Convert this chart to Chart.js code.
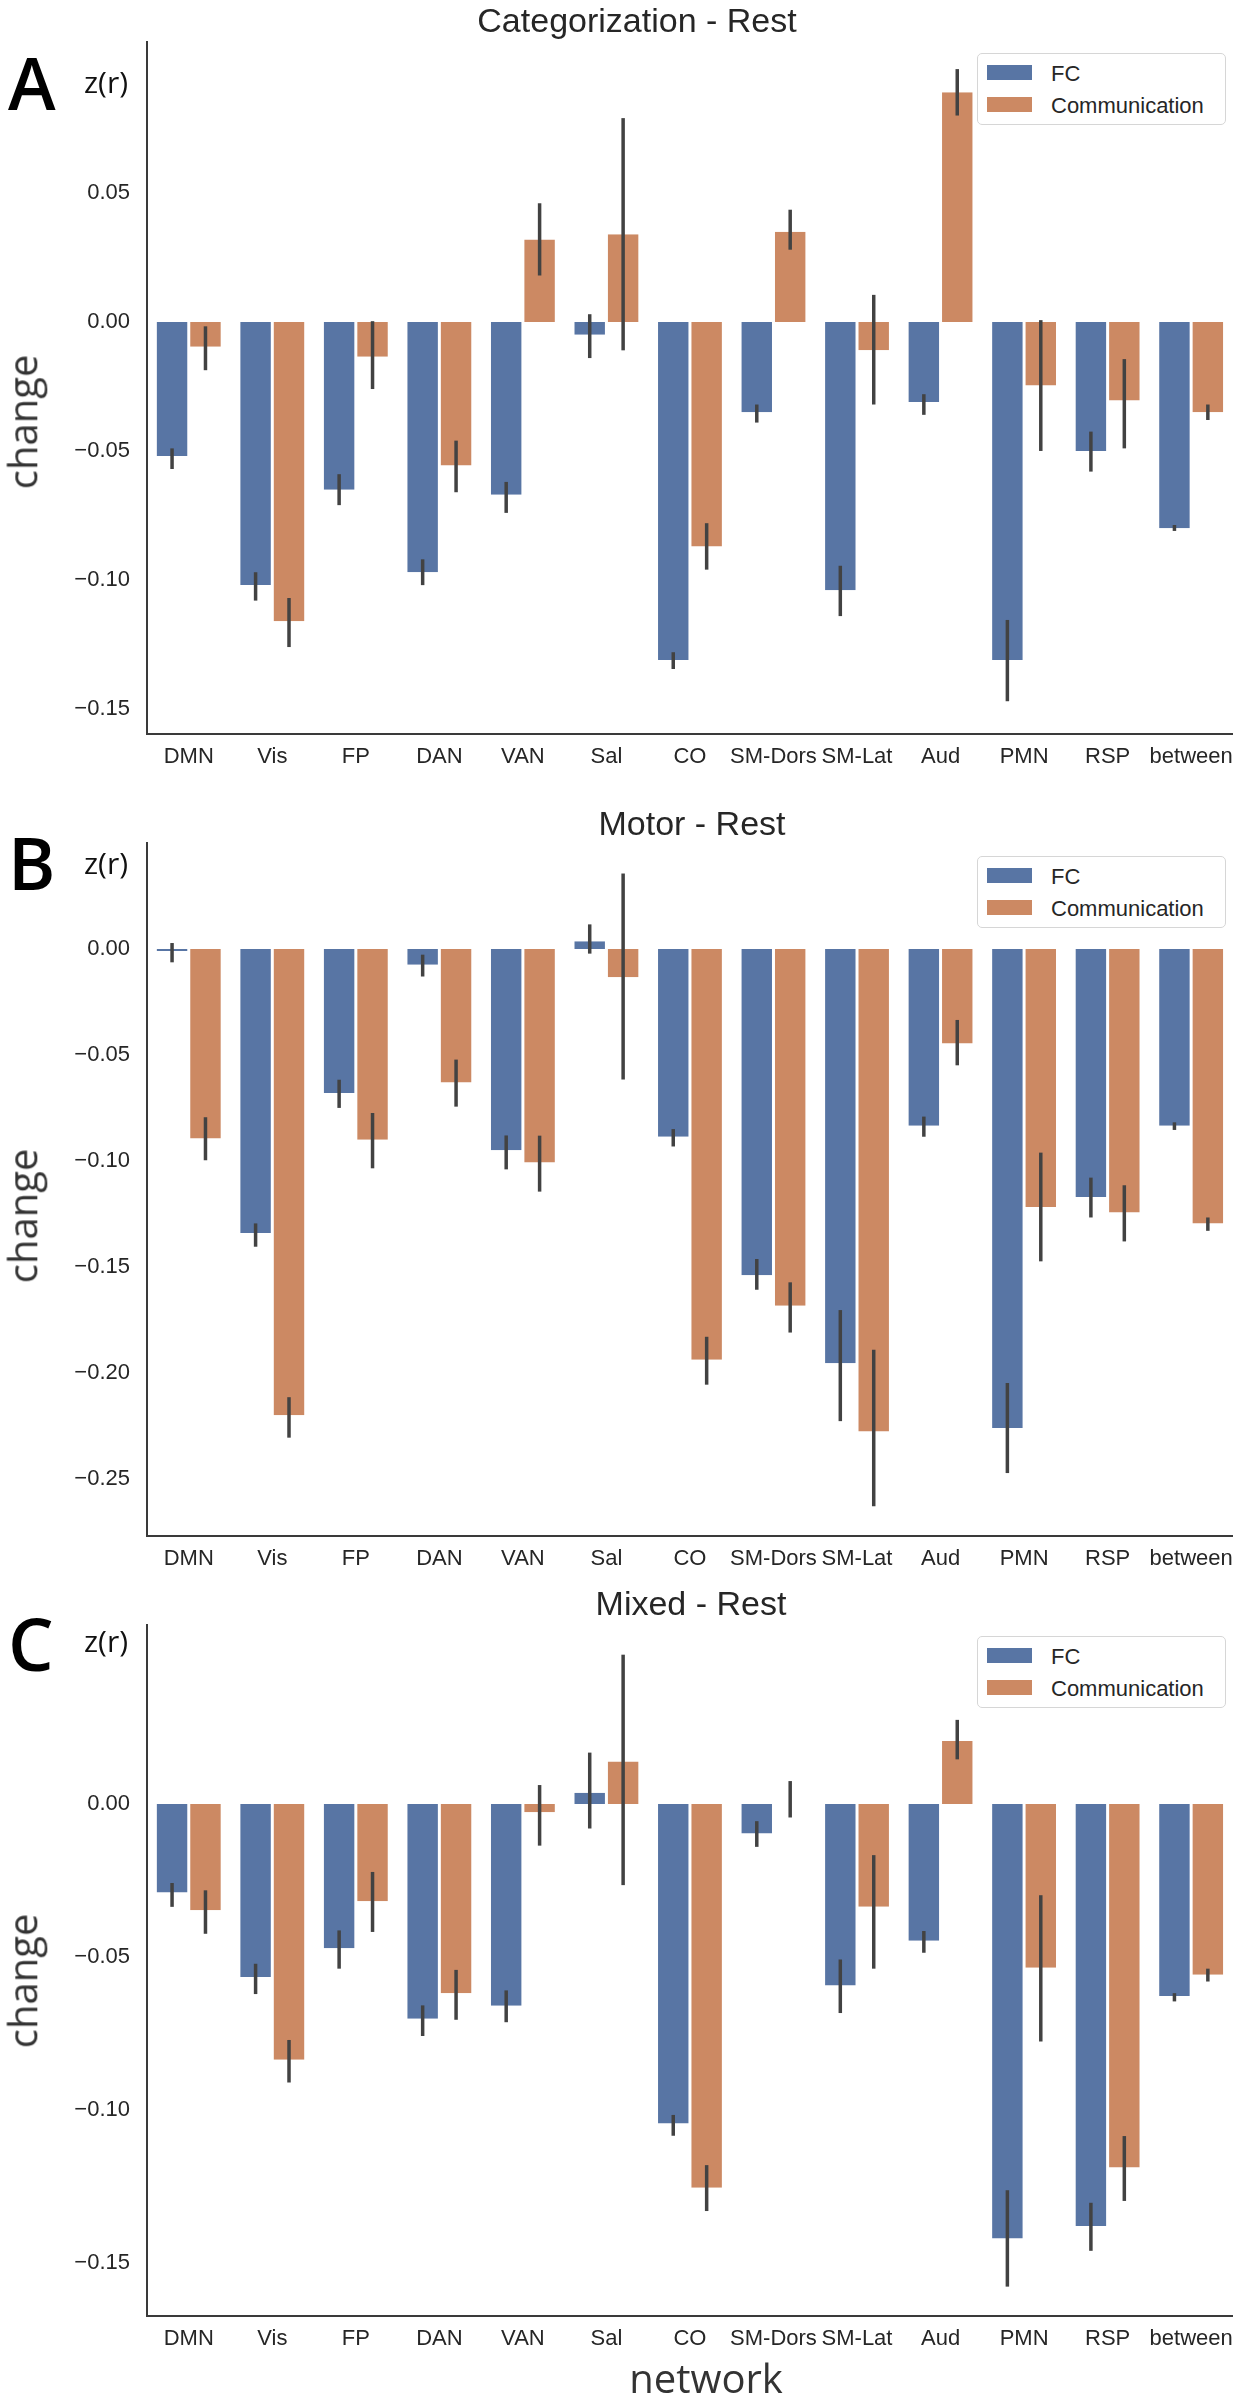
<!DOCTYPE html>
<html><head><meta charset="utf-8">
<script src="https://cdn.jsdelivr.net/npm/chart.js@4.4.1/dist/chart.umd.min.js"></script>
<style>
html,body{margin:0;padding:0;background:#fff;}
#wrap{position:relative;width:1243px;height:2400px;overflow:hidden;background:#fff;}
canvas{position:absolute;left:0;}
.t{position:absolute;white-space:nowrap;line-height:1;z-index:3;}
.title{font-family:'Liberation Sans',Arial,sans-serif;font-size:34px;color:#262626;}
.letter{font-family:'Open Sans',sans-serif;font-size:72px;font-weight:600;color:#000;}
.zr{font-family:'Open Sans',sans-serif;font-size:30px;color:#111;}
.lab{font-family:'Open Sans',sans-serif;font-size:40px;color:#333;}
.legend{position:absolute;border:1.5px solid #d6d6d6;border-radius:5px;background:#fff;box-sizing:border-box;z-index:2;}
.patch{position:absolute;width:45px;height:15px;z-index:3;}
.ltxt{font-family:'Liberation Sans',Arial,sans-serif;font-size:22px;color:#262626;}
</style></head><body><div id="wrap"></div>
<script>
// ---------------- DATA ----------------
const categories = ['DMN','Vis','FP','DAN','VAN','Sal','CO','SM-Dors','SM-Lat','Aud','PMN','RSP','between'];
const seriesNames = ['FC','Communication'];

// Panel A: Categorization - Rest
const fcA     = [-0.052,-0.102,-0.065,-0.097,-0.067,-0.005,-0.131,-0.035,-0.104,-0.031,-0.131,-0.050,-0.080];
const fcA_lo  = [-0.057,-0.108,-0.071,-0.102,-0.074,-0.014,-0.1345,-0.039,-0.114,-0.036,-0.147,-0.058,-0.081];
const fcA_hi  = [-0.049,-0.097,-0.059,-0.092,-0.062,0.003,-0.128,-0.032,-0.0945,-0.028,-0.1155,-0.0425,-0.0787];
const commA    = [-0.0096,-0.116,-0.0135,-0.0556,0.032,0.034,-0.087,0.035,-0.011,0.089,-0.0246,-0.0304,-0.035];
const commA_lo = [-0.0187,-0.126,-0.026,-0.066,0.018,-0.011,-0.096,0.028,-0.032,0.080,-0.050,-0.049,-0.038];
const commA_hi = [-0.0017,-0.107,0.0003,-0.046,0.046,0.079,-0.078,0.0435,0.0105,0.098,0.0007,-0.0144,-0.032];
const yTicksA      = [-0.15,-0.10,-0.05,0.00,0.05];
const yTickLabelsA = ['\u22120.15','\u22120.10','\u22120.05','0.00','0.05'];

// Panel B: Motor - Rest
const fcB     = [-0.001,-0.134,-0.068,-0.0074,-0.095,0.0036,-0.0886,-0.154,-0.1955,-0.0834,-0.226,-0.117,-0.0834];
const fcB_lo  = [-0.0063,-0.1405,-0.075,-0.013,-0.104,-0.0022,-0.0932,-0.1608,-0.2228,-0.0886,-0.2473,-0.1267,-0.0854];
const fcB_hi  = [0.0028,-0.1295,-0.0617,-0.0027,-0.088,0.0116,-0.085,-0.1463,-0.1704,-0.0791,-0.2048,-0.1079,-0.0818];
const commB    = [-0.0894,-0.220,-0.090,-0.063,-0.1008,-0.0134,-0.1938,-0.1683,-0.2277,-0.0446,-0.1217,-0.1244,-0.1295];
const commB_lo = [-0.0997,-0.2306,-0.1035,-0.0744,-0.1145,-0.0616,-0.2056,-0.181,-0.263,-0.0549,-0.1474,-0.138,-0.133];
const commB_hi = [-0.0794,-0.2115,-0.0774,-0.0522,-0.0881,0.0356,-0.183,-0.1573,-0.1891,-0.0335,-0.0961,-0.1115,-0.1267];
const yTicksB      = [-0.25,-0.20,-0.15,-0.10,-0.05,0.00];
const yTickLabelsB = ['\u22120.25','\u22120.20','\u22120.15','\u22120.10','\u22120.05','0.00'];

// Panel C: Mixed - Rest
const fcC     = [-0.0289,-0.0565,-0.0471,-0.0702,-0.0659,0.0037,-0.1044,-0.0096,-0.0593,-0.0447,-0.142,-0.1379,-0.0627];
const fcC_lo  = [-0.0336,-0.0621,-0.0538,-0.0758,-0.0713,-0.008,-0.1084,-0.014,-0.0683,-0.0486,-0.1577,-0.146,-0.0645];
const fcC_hi  = [-0.0258,-0.0522,-0.0413,-0.0658,-0.0609,0.0168,-0.1016,-0.0056,-0.0508,-0.0415,-0.1262,-0.1303,-0.0618];
const commC    = [-0.0347,-0.0836,-0.0318,-0.0618,-0.0027,0.0139,-0.1254,0.0,-0.0336,0.0206,-0.0535,-0.1188,-0.0558];
const commC_lo = [-0.0424,-0.091,-0.0418,-0.0705,-0.0136,-0.0265,-0.133,-0.0044,-0.0538,0.0146,-0.0776,-0.1297,-0.058];
const commC_hi = [-0.0282,-0.0771,-0.0222,-0.0542,0.0062,0.0488,-0.118,0.0075,-0.0167,0.0275,-0.0298,-0.1085,-0.0538];
const yTicksC      = [-0.15,-0.10,-0.05,0.00];
const yTickLabelsC = ['\u22120.15','\u22120.10','\u22120.05','0.00'];

const titles = ['Categorization - Rest','Motor - Rest','Mixed - Rest'];
const panelLetters = ['A','B','C'];
const yLimits = [[-0.1597,0.1085],[-0.277,0.050],[-0.1673,0.0585]];

// ---------------- STYLE / LAYOUT ----------------
const FC_COLOR = '#5875a4', COMM_COLOR = '#cc8963', AXIS_COLOR = '#3a3a3a', ERR_COLOR = '#424242', TEXT_COLOR = '#262626';
const TICK_FONT = {family:"'Liberation Sans', Arial, sans-serif", size:22};
const layouts = [
  {canvasTop:0,    canvasH:790, padTop:42, xAxisH:56, titleCx:637, titleBase:32,   letterBase:110,  zrBase:93,   changeCy:421.5, legendTop:53},
  {canvasTop:790,  canvasH:790, padTop:53, xAxisH:44, titleCx:692, titleBase:835,  letterBase:890,  zrBase:874,  changeCy:1216,  legendTop:856},
  {canvasTop:1580, canvasH:780, padTop:45, xAxisH:44, titleCx:691, titleBase:1615, letterBase:1671, zrBase:1652, changeCy:1980.5,legendTop:1636}
];
const panelData = [
  {fc:fcA, fcLo:fcA_lo, fcHi:fcA_hi, comm:commA, commLo:commA_lo, commHi:commA_hi, ticks:yTicksA, tickLabels:yTickLabelsA},
  {fc:fcB, fcLo:fcB_lo, fcHi:fcB_hi, comm:commB, commLo:commB_lo, commHi:commB_hi, ticks:yTicksB, tickLabels:yTickLabelsB},
  {fc:fcC, fcLo:fcC_lo, fcHi:fcC_hi, comm:commC, commLo:commC_lo, commHi:commC_hi, ticks:yTicksC, tickLabels:yTickLabelsC}
];

const errorBars = {
  id:'errorBars',
  afterDatasetsDraw(chart){
    const ctx = chart.ctx, ys = chart.scales.y;
    ctx.save();
    ctx.strokeStyle = ERR_COLOR; ctx.lineWidth = 3.5; ctx.lineCap = 'butt';
    chart.data.datasets.forEach((ds,i)=>{
      const meta = chart.getDatasetMeta(i);
      meta.data.forEach((bar,j)=>{
        ctx.beginPath();
        ctx.moveTo(bar.x, ys.getPixelForValue(ds.errLo[j]));
        ctx.lineTo(bar.x, ys.getPixelForValue(ds.errHi[j]));
        ctx.stroke();
      });
    });
    ctx.restore();
  }
};

const wrap = document.getElementById('wrap');
const barBorder = {left:1.5,right:1.5,top:0,bottom:0};

panelData.forEach((p,k)=>{
  const L = layouts[k];
  const cv = document.createElement('canvas');
  cv.width = 1243; cv.height = L.canvasH;
  cv.style.top = L.canvasTop + 'px';
  cv.style.width = '1243px'; cv.style.height = L.canvasH + 'px';
  wrap.appendChild(cv);
  new Chart(cv.getContext('2d'), {
    type:'bar',
    data:{
      labels: categories,
      datasets:[
        {label:seriesNames[0], data:p.fc, errLo:p.fcLo, errHi:p.fcHi, backgroundColor:FC_COLOR, borderColor:'#ffffff',
         borderWidth:barBorder, borderSkipped:false, categoryPercentage:0.8, barPercentage:1.0},
        {label:seriesNames[1], data:p.comm, errLo:p.commLo, errHi:p.commHi, backgroundColor:COMM_COLOR, borderColor:'#ffffff',
         borderWidth:barBorder, borderSkipped:false, categoryPercentage:0.8, barPercentage:1.0}
      ]
    },
    options:{
      responsive:false, animation:false, devicePixelRatio:1,
      layout:{padding:{top:L.padTop, right:7, left:0, bottom:0}},
      plugins:{legend:{display:false}, title:{display:false}, tooltip:{enabled:false}},
      scales:{
        x:{type:'category', offset:true,
           grid:{display:false, drawTicks:false, tickLength:0},
           border:{display:true, color:AXIS_COLOR, width:2},
           ticks:{autoSkip:false, maxRotation:0, minRotation:0, padding:10, color:TEXT_COLOR, font:TICK_FONT},
           afterFit(s){ s.height = L.xAxisH; }},
        y:{type:'linear', min:yLimits[k][0], max:yLimits[k][1],
           grid:{display:false, drawTicks:false, tickLength:0},
           border:{display:true, color:AXIS_COLOR, width:2},
           ticks:{padding:17, color:TEXT_COLOR, font:TICK_FONT,
                  callback:(v,i)=> p.tickLabels[i]},
           afterBuildTicks(s){ s.ticks = p.ticks.map(v=>({value:v})); },
           afterFit(s){ s.width = 147; }}
      }
    },
    plugins:[errorBars]
  });
});

// ---------------- TEXT OVERLAYS ----------------
function mk(cls, txt){
  const d = document.createElement('div');
  d.className = 't ' + cls; d.textContent = txt;
  d.style.left = '0px'; d.style.top = '0px';
  wrap.appendChild(d);
  return d;
}
function baselineOffset(el){
  const m = document.createElement('span');
  m.style.cssText = 'display:inline-block;width:0;height:0;vertical-align:baseline;';
  el.appendChild(m);
  const off = m.getBoundingClientRect().top - el.getBoundingClientRect().top;
  el.removeChild(m);
  return off;
}
function placeLeft(el, left, base){
  el.style.left = left + 'px';
  el.style.top = (base - baselineOffset(el)) + 'px';
}
function placeCenter(el, cx, base){
  const w = el.getBoundingClientRect().width;
  el.style.left = (cx - w/2) + 'px';
  el.style.top = (base - baselineOffset(el)) + 'px';
}
function placeRotated(el, baseX, cy){
  const r = el.getBoundingClientRect();
  const off = baselineOffset(el);
  const cx = baseX - (off - r.height/2);
  el.style.left = (cx - r.width/2) + 'px';
  el.style.top = (cy - r.height/2) + 'px';
  el.style.transformOrigin = '50% 50%';
  el.style.transform = 'rotate(-90deg)';
}

function layoutText(){
  wrap.querySelectorAll('.t,.legend,.patch').forEach(e=>e.remove());
  layouts.forEach((L,k)=>{
    placeCenter(mk('title', titles[k]), L.titleCx, L.titleBase);
    placeLeft(mk('letter', panelLetters[k]), 8, L.letterBase);
    placeLeft(mk('zr', 'z(r)'), 84, L.zrBase);
    placeRotated(mk('lab', 'change'), 37, L.changeCy);
    const box = document.createElement('div');
    box.className = 'legend';
    box.style.left = '977px'; box.style.top = L.legendTop + 'px';
    box.style.width = '249px'; box.style.height = '72px';
    wrap.appendChild(box);
    [FC_COLOR, COMM_COLOR].forEach((c,i)=>{
      const pt = L.legendTop + 12 + i*32;
      const pa = document.createElement('div');
      pa.className = 'patch'; pa.style.background = c;
      pa.style.left = '987px'; pa.style.top = pt + 'px';
      wrap.appendChild(pa);
      placeLeft(mk('ltxt', seriesNames[i]), 1051, pt + 15.5);
    });
  });
  placeCenter(mk('lab', 'network'), 706, 2393);
}
layoutText();
if (document.fonts && document.fonts.ready) document.fonts.ready.then(layoutText);
</script></body></html>
